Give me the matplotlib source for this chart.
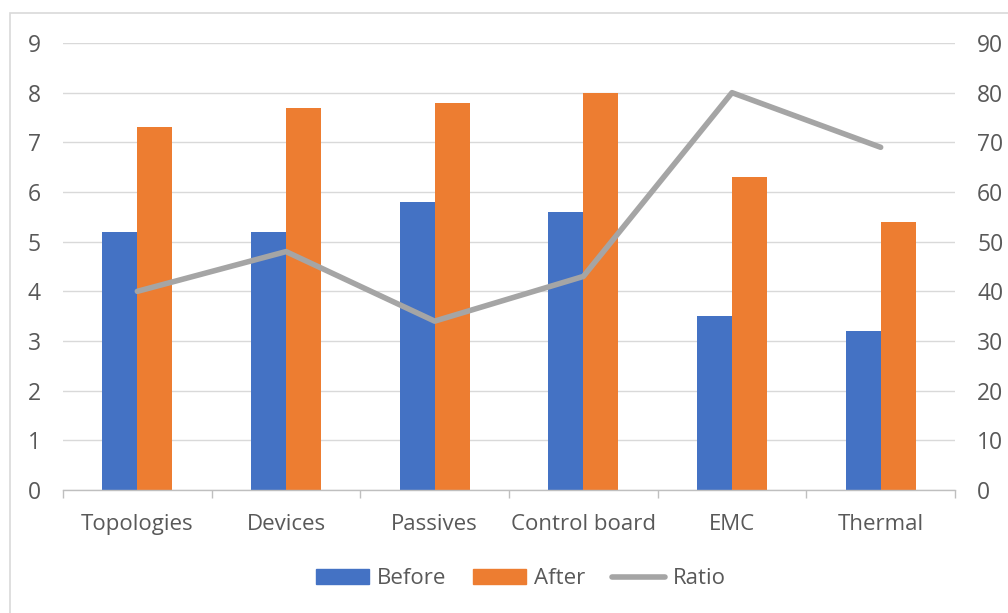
import matplotlib
matplotlib.use("Agg")
import matplotlib.pyplot as plt
import numpy as np
from matplotlib.patches import Rectangle
from matplotlib.lines import Line2D

categories = ["Topologies", "Devices", "Passives", "Control board", "EMC", "Thermal"]
before = [5.2, 5.2, 5.8, 5.6, 3.5, 3.2]
after = [7.3, 7.7, 7.8, 8.0, 6.3, 5.4]
ratio = [40, 48, 34, 43, 80, 69]

BLUE = "#4472C4"
ORANGE = "#ED7D31"
GRAY = "#A5A5A5"
TEXT = "#595959"
GRID = "#D9D9D9"

plt.rcParams["font.family"] = ["Open Sans", "DejaVu Sans"]

fig = plt.figure(figsize=(10.08, 6.13), dpi=100)
fig.patch.set_facecolor("white")

# outer chart border (light gray frame)
fig.patches.append(Rectangle((10 / 1008, -0.1), 1.2, 1 - 13 / 613 + 0.1,
                             transform=fig.transFigure, fill=False,
                             edgecolor=GRID, linewidth=1.2))

ax = fig.add_axes([63 / 1008, 1 - 490 / 613, (955 - 63) / 1008, (490 - 43) / 613])
ax2 = ax.twinx()

x = np.arange(len(categories))
w = 0.236
ax.bar(x - w / 2, before, w, color=BLUE, zorder=3, label="Before")
ax.bar(x + w / 2, after, w, color=ORANGE, zorder=3, label="After")
ax2.plot(x, ratio, color=GRAY, linewidth=4.0, solid_capstyle="round",
         solid_joinstyle="round", label="Ratio")

ax.set_xlim(-0.5, len(categories) - 0.5)
ax.set_ylim(0, 9)
ax.set_yticks(range(0, 10))
ax2.set_ylim(0, 90)
ax2.set_yticks(range(0, 100, 10))

ax.grid(axis="y", color=GRID, linewidth=1.0, zorder=0)
for a in (ax, ax2):
    for s in ("top", "right", "left", "bottom"):
        a.spines[s].set_visible(False)
ax.spines["bottom"].set_visible(True)
ax.spines["bottom"].set_color("#BFBFBF")
ax.spines["bottom"].set_linewidth(1.0)
ax.spines["bottom"].set_zorder(4)

ax.set_xticks(x)
ax.set_xticklabels(categories)
ax.set_xticks(np.arange(-0.5, len(categories)), minor=True)
ax.tick_params(axis="x", which="major", length=0, pad=17, labelsize=16, labelcolor=TEXT)
ax.tick_params(axis="x", which="minor", length=6, color="#BFBFBF", width=1.0)
ax.tick_params(axis="y", length=0, pad=16, labelsize=16.5, labelcolor=TEXT)
ax2.tick_params(axis="y", length=0, pad=16, labelsize=16.5, labelcolor=TEXT)

handles = [
    Rectangle((0, 0), 1, 1, color=BLUE),
    Rectangle((0, 0), 1, 1, color=ORANGE),
    Line2D([0], [0], color=GRAY, linewidth=4.0, solid_capstyle="round"),
]
fig.legend(handles, ["Before", "After", "Ratio"], loc="center",
           bbox_to_anchor=(521 / 1008, 1 - 579 / 613), ncol=3, frameon=False,
           fontsize=16, labelcolor=TEXT, handlelength=2.4, handleheight=0.62,
           handletextpad=0.35, columnspacing=1.2)

fig.savefig("out.png", dpi=100, facecolor="white")
